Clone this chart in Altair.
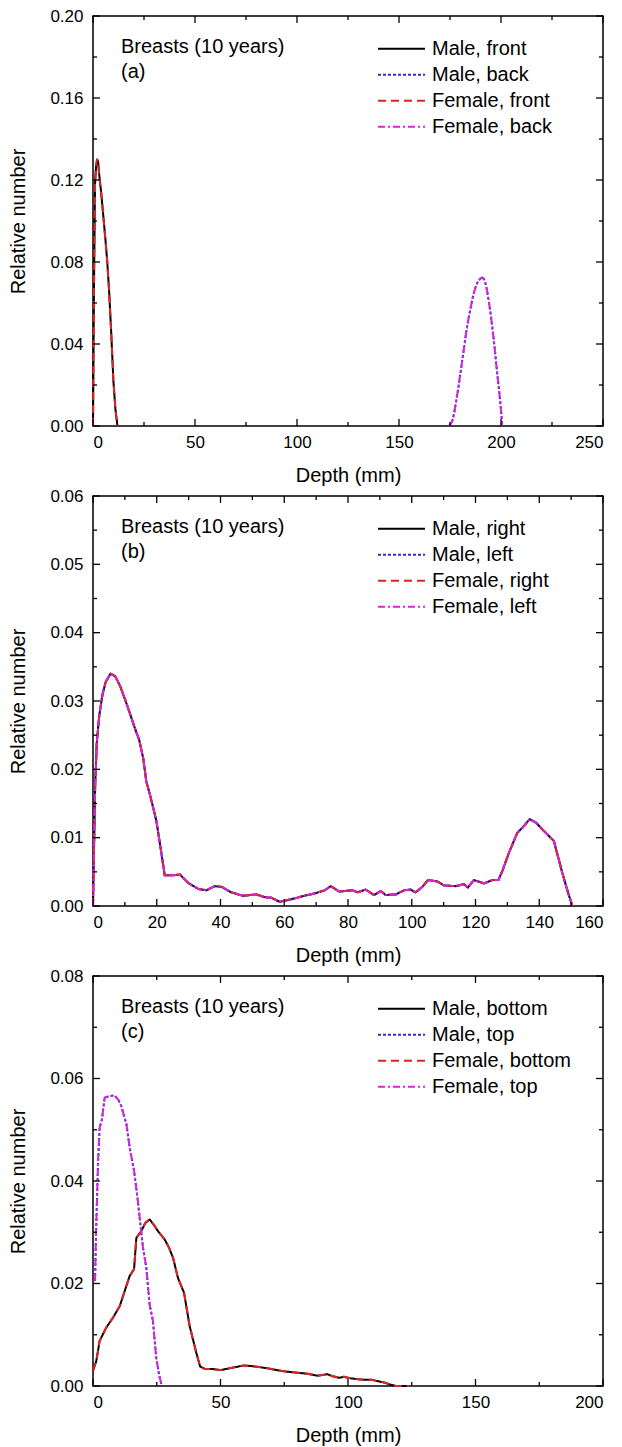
import altair as alt
import pandas as pd

FONT = "Liberation Sans"
W, H = 510, 410

# ---------------- data ----------------
# Panel (a): front / back
a_names = ["Male, front", "Male, back", "Female, front", "Female, back"]
a_front_depth = [0, 0.5, 1, 1.5, 2, 2.5, 3, 4, 5, 6, 7, 8, 9, 10, 11, 12]
a_front_value = [0, 0.07, 0.118, 0.127, 0.13, 0.129, 0.123, 0.114, 0.103, 0.092,
                 0.08, 0.064, 0.044, 0.022, 0.008, 0]
a_back_depth = [174.5, 176, 177, 178, 179, 180, 181, 182, 183, 184, 185, 186, 187,
                188, 189, 190, 191, 192, 193, 194, 195, 196, 197, 198, 199, 200, 200.6]
a_back_value = [0, 0.002, 0.006, 0.012, 0.018, 0.025, 0.032, 0.039, 0.046, 0.052,
                0.057, 0.062, 0.066, 0.069, 0.071, 0.072, 0.0725, 0.071, 0.067,
                0.061, 0.054, 0.046, 0.037, 0.027, 0.018, 0.008, 0]

# Panel (b): right / left (all four curves overlap)
b_names = ["Male, right", "Male, left", "Female, right", "Female, left"]
b_depth = [0, 0.3, 0.7, 1.2, 2, 3, 4, 5.5, 7, 8.5,
           10, 11.5, 13, 14.5, 15.8, 16.7, 18.3, 19.9, 21.2, 22.5,
           25, 27.3, 29.8, 33, 35.6, 38.2, 40.3, 43.4, 47, 51.2,
           53.8, 56, 58.6, 62.2, 64, 66.4, 70, 72.7, 74.6, 77.3,
           79, 81.4, 83, 85.5, 88.2, 90.3, 91.8, 95, 97.6, 99.7,
           101.2, 103.3, 105.1, 108, 110.1, 113.8, 116.4, 117.6, 119.5, 122.7,
           125.3, 127.2, 128.4, 130.5, 133.1, 135.2, 137, 139, 141, 144.6,
           147.2, 149, 150.4]
b_value = [0, 0.008, 0.018, 0.024, 0.028, 0.031, 0.0328, 0.0340, 0.0336, 0.0322,
           0.0303, 0.0283, 0.0262, 0.0243, 0.0215, 0.0183, 0.0155, 0.0124, 0.0085, 0.0045,
           0.0045, 0.0046, 0.0034, 0.0025, 0.0023, 0.0029, 0.0028, 0.0020, 0.0015, 0.0017,
           0.0013, 0.0012, 0.0006, 0.0010, 0.0012, 0.0015, 0.0019, 0.0023, 0.0029, 0.0021,
           0.0022, 0.0023, 0.0020, 0.0024, 0.0016, 0.0022, 0.0016, 0.0017, 0.0023, 0.0024,
           0.0020, 0.0028, 0.0038, 0.0036, 0.0030, 0.0029, 0.0032, 0.0027, 0.0038, 0.0033,
           0.0038, 0.0038, 0.0051, 0.0078, 0.0107, 0.0117, 0.0127, 0.0122, 0.0112, 0.0095,
           0.0049, 0.002, 0]

# Panel (c): bottom / top
c_names = ["Male, bottom", "Male, top", "Female, bottom", "Female, top"]
c_bottom_depth = [0, 1.3, 2.6, 5.2, 7.8, 10.5, 12.4, 14.4, 16.1, 17,
                  18.9, 20.5, 22.2, 23.8, 25.5, 28.1, 29.8, 31.4, 33.3, 35.7,
                  37.9, 40.5, 42, 44, 47, 50, 53, 56, 59, 62,
                  65, 68, 72, 76, 80, 84, 88, 91.9, 94, 96.5,
                  98.4, 101, 104.3, 107, 109.5, 112, 114.1, 116.5, 118.7, 124]
c_bottom_value = [0.003, 0.0049, 0.0088, 0.0114, 0.0133, 0.0156, 0.0185, 0.0215, 0.0228, 0.0289,
                  0.0302, 0.0318, 0.0325, 0.0315, 0.0302, 0.0286, 0.027, 0.025, 0.0211, 0.0182,
                  0.0117, 0.0065, 0.0038, 0.0033, 0.0033, 0.0031, 0.0034, 0.0037, 0.0040, 0.0039,
                  0.0037, 0.0035, 0.0031, 0.0028, 0.0026, 0.0024, 0.0020, 0.0023, 0.0019, 0.0016,
                  0.0018, 0.0015, 0.0013, 0.0012, 0.0012, 0.0009, 0.0007, 0.0003, 0, 0]
c_top_depth = [0.8, 1.2, 2, 2.6, 3.5, 4.6, 6, 8.5, 10, 11.1,
               12, 13.1, 14.4, 16.1, 17.6, 18.6, 19.6, 20.9, 22.2, 23.5,
               24.8, 26, 27]
c_top_value = [0.0205, 0.03, 0.0439, 0.0504, 0.052, 0.0563, 0.0565, 0.0567, 0.0558, 0.0546,
               0.053, 0.0511, 0.0465, 0.042, 0.0361, 0.0315, 0.027, 0.0231, 0.0159, 0.0127,
               0.0055, 0.002, 0]

# axis ticks
a_x_major = [0, 50, 100, 150, 200, 250]
a_x_minor = [25, 75, 125, 175, 225]
a_y_major = [0, 0.04, 0.08, 0.12, 0.16, 0.20]
a_y_minor = [0.02, 0.06, 0.10, 0.14, 0.18]
b_x_major = [0, 20, 40, 60, 80, 100, 120, 140, 160]
b_x_minor = [10, 30, 50, 70, 90, 110, 130, 150]
b_y_major = [0, 0.01, 0.02, 0.03, 0.04, 0.05, 0.06]
b_y_minor = [0.005, 0.015, 0.025, 0.035, 0.045, 0.055]
c_x_major = [0, 50, 100, 150, 200]
c_x_minor = [25, 75, 125, 175]
c_y_major = [0, 0.02, 0.04, 0.06, 0.08]
c_y_minor = [0.01, 0.03, 0.05, 0.07]

COLORS = ["#000000", "#2b2bd9", "#e02424", "#dd22dd"]
DASHES = [[1, 0], [3, 2], [8, 5], [7, 3, 2, 3]]


def frame_df(names, curves):
    rows = []
    for name, (xs, ys) in zip(names, curves):
        for x, y in zip(xs, ys):
            rows.append({"depth": x, "value": y, "series": name})
    return pd.DataFrame(rows)


def panel(names, curves, xdom, xmaj, xmin, ydom, ymaj, ymin, tag):
    df = frame_df(names, curves)
    xs = alt.Scale(domain=xdom, nice=False, zero=False)
    ys = alt.Scale(domain=ydom, nice=False, zero=False)
    xax = alt.Axis(values=xmaj, title="Depth (mm)", format="d",
                   domain=False, ticks=False, grid=False,
                   labelFontSize=17, titleFontSize=20, labelPadding=8,
                   titlePadding=15, labelFont=FONT, titleFont=FONT,
                   labelColor="black", titleColor="black",
                   titleFontWeight="normal")
    yax = alt.Axis(values=ymaj, title="Relative number", format=".2f",
                   domain=False, ticks=False, grid=False,
                   labelFontSize=17, titleFontSize=20, labelPadding=10,
                   titlePadding=21, labelFont=FONT, titleFont=FONT,
                   labelColor="black", titleColor="black",
                   titleFontWeight="normal")
    leg = alt.Legend(title=None, orient="none", legendX=284, legendY=20,
                     symbolType="stroke", symbolSize=2209, symbolStrokeWidth=2,
                     clipHeight=25.6, rowPadding=0, labelFontSize=20, labelFont=FONT,
                     labelColor="black", labelOffset=6, padding=0, symbolOffset=0,
                     labelLimit=400)
    lines = alt.Chart(df).mark_line(strokeWidth=2, strokeJoin="round").encode(
        x=alt.X("depth:Q", scale=xs, axis=xax, title="Depth (mm)"),
        y=alt.Y("value:Q", scale=ys, axis=yax, title="Relative number"),
        color=alt.Color("series:N", scale=alt.Scale(domain=names, range=COLORS), legend=leg),
        strokeDash=alt.StrokeDash("series:N", scale=alt.Scale(domain=names, range=DASHES), legend=leg),
    )
    layers = [lines]
    for vals, ln in ((xmaj, 7), (xmin, 4)):
        tdf = pd.DataFrame({"depth": vals})
        for y0, y1 in ((H, H - ln), (0, ln)):
            layers.append(alt.Chart(tdf).mark_rule(color="black", strokeWidth=1.3).encode(
                x=alt.X("depth:Q", scale=xs, axis=xax, title="Depth (mm)"),
                y=alt.value(y0), y2=alt.value(y1)))
    for vals, ln in ((ymaj, 7), (ymin, 4)):
        tdf = pd.DataFrame({"value": vals})
        for x0, x1 in ((0, ln), (W, W - ln)):
            layers.append(alt.Chart(tdf).mark_rule(color="black", strokeWidth=1.3).encode(
                y=alt.Y("value:Q", scale=ys, axis=yax, title="Relative number"),
                x=alt.value(x0), x2=alt.value(x1)))
    ann = alt.Chart(pd.DataFrame({"k": [0]})).mark_text(
        align="left", baseline="alphabetic", fontSize=20, font=FONT, color="black",
        lineHeight=25.7, text=["Breasts (10 years)", f"({tag})"]
    ).encode(x=alt.value(28), y=alt.value(36.7))
    layers.append(ann)
    return alt.layer(*layers).properties(width=W, height=H)


pa = panel(a_names,
           [(a_front_depth, a_front_value), (a_back_depth, a_back_value),
            (a_front_depth, a_front_value), (a_back_depth, a_back_value)],
           [0, 250], a_x_major, a_x_minor, [0, 0.2], a_y_major, a_y_minor, "a")
pb = panel(b_names,
           [(b_depth, b_value)] * 4,
           [0, 160], b_x_major, b_x_minor, [0, 0.06], b_y_major, b_y_minor, "b")
pc = panel(c_names,
           [(c_bottom_depth, c_bottom_value), (c_top_depth, c_top_value),
            (c_bottom_depth, c_bottom_value), (c_top_depth, c_top_value)],
           [0, 200], c_x_major, c_x_minor, [0, 0.08], c_y_major, c_y_minor, "c")

chart = alt.vconcat(pa, pb, pc, spacing=70, bounds="flush").resolve_scale(
    x="independent", y="independent", color="independent", strokeDash="independent"
).resolve_legend(color="independent", strokeDash="independent").properties(
    padding={"left": 0, "top": -2, "right": 5, "bottom": 2}
).configure_view(stroke="black", strokeWidth=1.5)

chart.save("out.html", embed_options={"renderer": "svg", "actions": False})
